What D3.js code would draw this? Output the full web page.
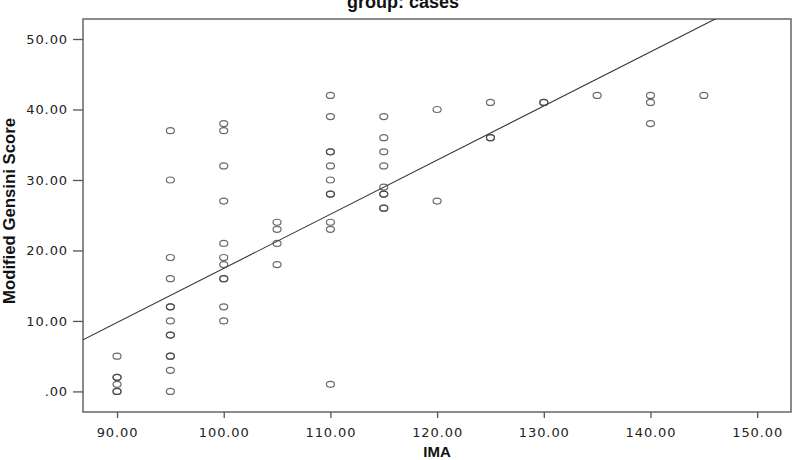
<!DOCTYPE html>
<html>
  <head>
    <meta charset="UTF-8">
    <script src="https://d3js.org/d3.v7.min.js"></script>
    <style>
      body {
        margin: 0;
        background: #fff;
        font-family: "DejaVu Sans", sans-serif;
      }

      text.tick-label {
        font-size: 13px;
        letter-spacing: 0.9px;
        fill: #222;
      }

      text.title {
        font-family: "Liberation Sans", Arial, sans-serif;
        font-weight: bold;
        fill: #111;
      }
    </style>
  </head>
  <body>
    <svg width="794" height="460"></svg>
    <script>
      // IMA value and Modified Gensini Score of each case
      const ima = [
        90, 90, 90, 90, 90, 90,
        95, 95, 95, 95, 95, 95, 95, 95, 95, 95, 95, 95, 95,
        100, 100, 100, 100, 100, 100, 100, 100, 100, 100, 100,
        105, 105, 105, 105,
        110, 110, 110, 110, 110, 110, 110, 110, 110, 110, 110,
        115, 115, 115, 115, 115, 115, 115, 115, 115,
        120, 120,
        125, 125, 125,
        130, 130,
        135,
        140, 140, 140,
        145
      ];
      const gensini = [
        5, 2, 2, 1, 0, 0,
        37, 30, 19, 16, 12, 12, 10, 8, 8, 5, 5, 3, 0,
        38, 37, 32, 27, 21, 19, 18, 16, 16, 12, 10,
        24, 23, 21, 18,
        42, 39, 34, 34, 32, 30, 28, 28, 24, 23, 1,
        39, 36, 34, 32, 29, 28, 28, 26, 26,
        40, 27,
        41, 36, 36,
        41, 41,
        42,
        42, 41, 38,
        42
      ];
      const xTicks = [90, 100, 110, 120, 130, 140, 150];
      const yTicks = [0, 10, 20, 30, 40, 50];
      // fit line as drawn in the picture
      const fitSlope = 0.768;
      const fitIntercept = -59.34;

      const svg = d3.select("svg");
      const plotL = 83, plotR = 791, plotT = 19, plotB = 412;

      const x = d3.scaleLinear().domain([86.81, 153.17]).range([plotL, plotR]);
      const y = d3.scaleLinear().domain([-2.92, 52.84]).range([plotB, plotT]);

      const fmt = (v) => v === 0 ? ".00" : d3.format(".2f")(v);

      // title, cut off at the top edge
      svg.append("text")
        .attr("class", "title")
        .attr("x", 403)
        .attr("y", 8)
        .attr("text-anchor", "middle")
        .style("font-size", "18px")
        .text("group: cases");

      svg.append("defs")
        .append("clipPath")
        .attr("id", "plot")
        .append("rect")
        .attr("x", plotL)
        .attr("y", plotT)
        .attr("width", plotR - plotL)
        .attr("height", plotB - plotT);

      // frame
      svg.append("rect")
        .attr("x", plotL)
        .attr("y", plotT)
        .attr("width", plotR - plotL)
        .attr("height", plotB - plotT)
        .attr("fill", "none")
        .attr("stroke", "#666")
        .attr("stroke-width", 1.5);

      // y axis
      const yAxis = svg.append("g")
        .attr("transform", `translate(${plotL},0)`)
        .call(d3.axisLeft(y).tickValues(yTicks).tickFormat(fmt).tickSize(10).tickPadding(5));
      yAxis.select(".domain").remove();
      yAxis.selectAll(".tick line").attr("stroke", "#555").attr("stroke-width", 1.3);
      yAxis.selectAll(".tick text").attr("class", "tick-label");
      yAxis.attr("font-family", null).attr("font-size", null);

      // x axis
      const xAxis = svg.append("g")
        .attr("transform", `translate(0,${plotB})`)
        .call(d3.axisBottom(x).tickValues(xTicks).tickFormat(fmt).tickSize(6).tickPadding(10));
      xAxis.select(".domain").remove();
      xAxis.selectAll(".tick line").attr("stroke", "#555").attr("stroke-width", 1.3);
      xAxis.selectAll(".tick text").attr("class", "tick-label");
      xAxis.attr("font-family", null).attr("font-size", null);

      // axis titles
      svg.append("text")
        .attr("class", "title")
        .attr("x", (plotL + plotR) / 2)
        .attr("y", 457)
        .attr("text-anchor", "middle")
        .style("font-size", "15px")
        .text("IMA");

      svg.append("text")
        .attr("class", "title")
        .attr("transform", "translate(15,211) rotate(-90)")
        .attr("text-anchor", "middle")
        .attr("textLength", 186)
        .attr("lengthAdjust", "spacingAndGlyphs")
        .style("font-size", "17px")
        .text("Modified Gensini Score");

      // fit line
      const xd = x.domain();
      svg.append("line")
        .attr("clip-path", "url(#plot)")
        .attr("x1", x(xd[0]))
        .attr("y1", y(fitSlope * xd[0] + fitIntercept))
        .attr("x2", x(xd[1]))
        .attr("y2", y(fitSlope * xd[1] + fitIntercept))
        .attr("stroke", "#333")
        .attr("stroke-width", 1.1);

      // points
      svg.append("g")
        .selectAll("ellipse")
        .data(ima.map((v, i) => [v, gensini[i]]))
        .join("ellipse")
          .attr("cx", (d) => x(d[0]))
          .attr("cy", (d) => y(d[1]))
          .attr("rx", 4)
          .attr("ry", 3)
          .attr("fill", "none")
          .attr("stroke", "#444")
          .attr("stroke-opacity", 0.8)
          .attr("stroke-width", 1.2);
    </script>
  </body>
</html>
